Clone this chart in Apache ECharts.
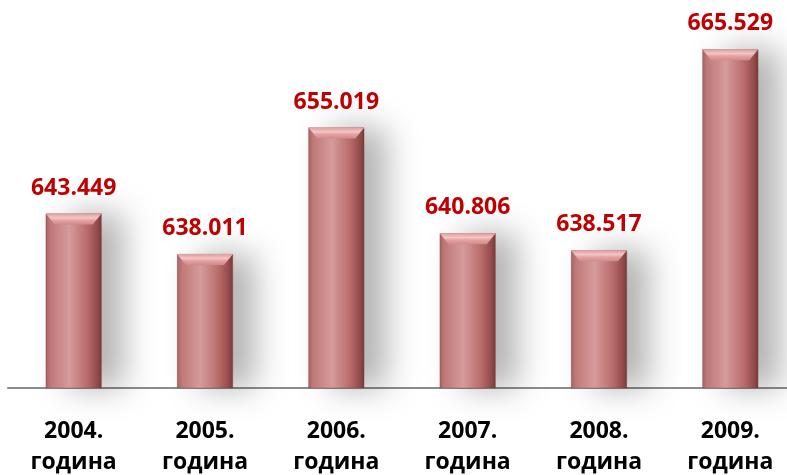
<!DOCTYPE html>
<html>
<head>
<meta charset="utf-8">
<script src="https://cdn.jsdelivr.net/npm/echarts@6/dist/echarts.min.js"></script>
<style>
	html, body { margin: 0; padding: 0; background: #fff; }
	#chart { width: 787px; height: 475px; }
</style>
</head>
<body>
<div id="chart"></div>
<script>
// data
const years = ['2004.', '2005.', '2006.', '2007.', '2008.', '2009.'];
const yearWord = 'година';
const values = [643.449, 638.011, 655.019, 640.806, 638.517, 665.529];

const categories = years.map((y) => y + '\n' + yearWord);

const myChart = echarts.init(document.getElementById('chart'));

// body gradient of the bar (left -> right)
const bodyColor = new echarts.graphic.LinearGradient(0, 0, 1, 0, [
	{ offset: 0, color: '#a85e5e' },
	{ offset: 0.08, color: '#bf7878' },
	{ offset: 0.42, color: '#d69b9b' },
	{ offset: 0.75, color: '#b86a6a' },
	{ offset: 0.92, color: '#944b4b' },
	{ offset: 1, color: '#7a3838' },
]);

myChart.setOption({
	animation: false,
	grid: {
		left: 8,
		top: 16,
		width: 788,
		height: 372,
		outerBoundsMode: 'none', // grid runs a bit past the right edge
	},
	xAxis: {
		type: 'category',
		data: categories,
		axisTick: { show: false },
		axisLine: {
			lineStyle: { color: '#8c8c8c', width: 2 },
		},
		axisLabel: {
			margin: 28,
			interval: 0,
			color: '#000',
			fontFamily: 'Open Sans',
			fontWeight: 'bold',
			fontSize: 23,
			lineHeight: 31,
		},
	},
	yAxis: {
		type: 'value',
		min: 620,
		max: 670,
		show: false,
	},
	series: [
		{
			// main bar body
			type: 'bar',
			data: values,
			barWidth: 56,
			z: 2,
			itemStyle: {
				color: bodyColor,
				borderColor: 'rgba(110,60,60,0.6)',
				borderWidth: 0.5,
				shadowColor: 'rgba(0,0,0,0.3)',
				shadowBlur: 32,
				shadowOffsetX: 22,
				shadowOffsetY: 0,
			},
			label: {
				show: true,
				position: 'top',
				distance: 14,
				color: '#c00000',
				fontFamily: 'Open Sans',
				fontWeight: 'bold',
				fontSize: 23,
				formatter: (p) => p.value.toFixed(3),
			},
		},
		{
			// top bevel of the bar
			type: 'pictorialBar',
			data: values,
			symbol: 'path://M0,0 L56,0 L47,11 L9,11 Z',
			symbolSize: [56, 11],
			symbolPosition: 'end',
			z: 3,
			itemStyle: {
				color: new echarts.graphic.LinearGradient(0, 0, 0, 1, [
					{ offset: 0, color: '#dc9c9c' },
					{ offset: 0.4, color: '#f4c6c6' },
					{ offset: 0.6, color: '#e7a3a3' },
					{ offset: 1, color: '#cf8a8a' },
				]),
			},
		},
		{
			// bottom bevel of the bar
			type: 'pictorialBar',
			data: values,
			symbol: 'path://M9,0 L47,0 L56,7 L0,7 Z',
			symbolSize: [56, 7],
			symbolPosition: 'start',
			z: 3,
			itemStyle: {
				color: 'rgba(120,55,55,0.45)',
			},
		},
	],
});
</script>
</body>
</html>
